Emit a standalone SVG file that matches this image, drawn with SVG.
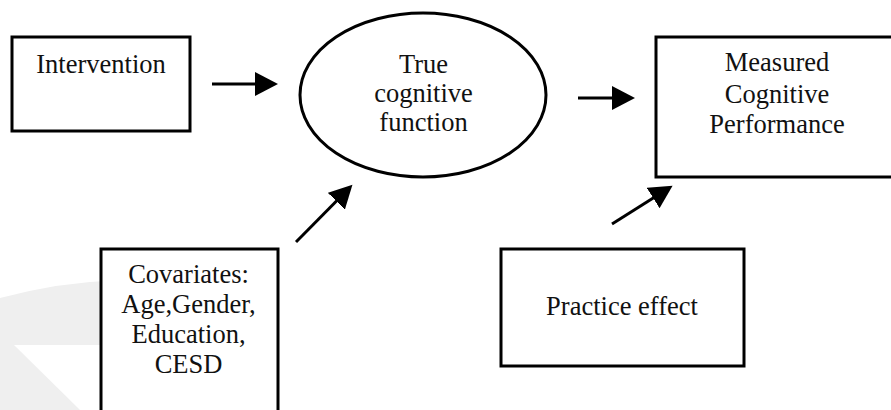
<svg xmlns="http://www.w3.org/2000/svg" width="891" height="410" viewBox="0 0 891 410">
<style>
.box{fill:#fff;stroke:#000;stroke-width:3}
.lbl{font-family:"Liberation Serif","Times New Roman",serif;font-size:26.5px;fill:#111;text-anchor:middle}
.conn{stroke:#000;stroke-width:3;fill:none}
</style>
<defs>
<marker id="ah" markerUnits="userSpaceOnUse" markerWidth="24" markerHeight="26" refX="1" refY="12" orient="auto" viewBox="0 0 24 26">
<path d="M0,0 L23,12 L0,24 Z" fill="#000"/>
</marker>
</defs>
<rect width="891" height="410" fill="#fff"/>
<g id="watermark">
<path d="M0,298 Q60,282 120,280 L120,410 L0,410 Z" fill="#efefef"/>
<path d="M14,345 L120,345 L120,410 L80,410 Z" fill="#fff"/>
</g>
<g id="intervention">
<rect class="box" x="12" y="37" width="178" height="94"/>
<text class="lbl" x="101" y="73">Intervention</text>
</g>
<g id="true-cognitive">
<ellipse class="box" cx="423" cy="95" rx="123" ry="82"/>
<text class="lbl" x="423.5" y="72.5">True</text>
<text class="lbl" x="423.5" y="102">cognitive</text>
<text class="lbl" x="423.5" y="131">function</text>
</g>
<g id="measured">
<rect class="box" x="656" y="37" width="250" height="140"/>
<text class="lbl" x="777" y="71">Measured</text>
<text class="lbl" x="777" y="102.5">Cognitive</text>
<text class="lbl" x="777" y="132.5">Performance</text>
</g>
<g id="covariates">
<rect class="box" x="101" y="249" width="177" height="180"/>
<text class="lbl" x="188.5" y="282.5">Covariates:</text>
<text class="lbl" x="188.5" y="313">Age,Gender,</text>
<text class="lbl" x="188.5" y="343">Education,</text>
<text class="lbl" x="188.5" y="373">CESD</text>
</g>
<g id="practice">
<rect class="box" x="501" y="249" width="243" height="117"/>
<text class="lbl" x="622" y="315">Practice effect</text>
</g>
<g id="connectors">
<line class="conn" x1="212" y1="84" x2="256" y2="84" marker-end="url(#ah)"/>
<line class="conn" x1="578" y1="98" x2="613" y2="98" marker-end="url(#ah)"/>
<line class="conn" x1="296" y1="242" x2="337" y2="200.5" marker-end="url(#ah)"/>
<line class="conn" x1="612" y1="224" x2="654" y2="197.5" marker-end="url(#ah)"/>
</g>
</svg>
